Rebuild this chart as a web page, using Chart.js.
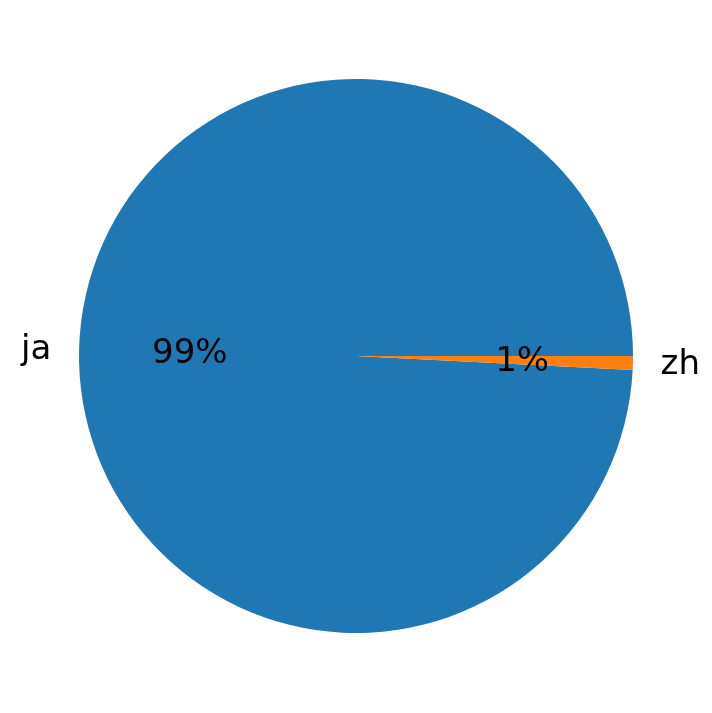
<!DOCTYPE html>
<html lang="en">
<head>
<meta charset="UTF-8">
<title>Languages</title>
<script src="https://cdn.jsdelivr.net/npm/chart.js"></script>
<style>
  body { margin: 0; background: #fff; }
</style>
</head>
<body>
<canvas id="pieChart" width="712" height="713"></canvas>
<script>
  const labels = ['ja', 'zh']
  const shares = [99.2, 0.8]
  const colors = ['#1f77b4', '#ff7f0e']

  const total = shares.reduce((a, b) => a + b, 0)
  // matplotlib draws counterclockwise from east, chart.js clockwise -> put ja start after zh
  const startDeg = 90 + shares[1] / total * 360

  // labels at 1.1r and percents at 0.6r like matplotlib autopct
  const pieText = {
    id: 'pieText',
    afterDraw(chart) {
      const ctx = chart.ctx
      const arcs = chart.getDatasetMeta(0).data
      ctx.save()
      ctx.font = '34px "DejaVu Sans"'
      ctx.fillStyle = '#000'
      ctx.textBaseline = 'middle'
      arcs.forEach((arc, i) => {
        const mid = (arc.startAngle + arc.endAngle) / 2
        const r = arc.outerRadius
        const c = Math.cos(mid), s = Math.sin(mid)
        ctx.textAlign = c >= 0 ? 'left' : 'right'
        ctx.fillText(labels[i], arc.x + 1.1 * r * c, arc.y + 1.1 * r * s + 2)
        ctx.textAlign = 'center'
        const pct = Math.round(shares[i] / total * 100) + '%'
        ctx.fillText(pct, arc.x + 0.6 * r * c, arc.y + 0.6 * r * s + 2)
      })
      ctx.restore()
    }
  }

  new Chart(document.getElementById('pieChart'), {
    type: 'pie',
    data: {
      labels: labels,
      datasets: [{
        data: shares,
        backgroundColor: colors,
        borderWidth: 0
      }]
    },
    options: {
      responsive: false,
      animation: false,
      rotation: startDeg,
      layout: { padding: { left: 79, right: 79, top: 79, bottom: 80 } },
      plugins: {
        legend: { display: false },
        tooltip: { enabled: false }
      }
    },
    plugins: [pieText]
  })
</script>
</body>
</html>
